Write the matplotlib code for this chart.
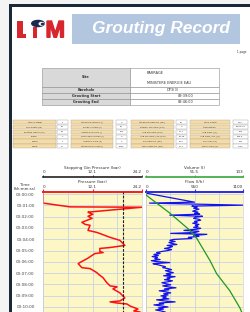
import matplotlib
matplotlib.use("Agg")
import matplotlib.pyplot as plt
from matplotlib.patches import Rectangle, Ellipse, PathPatch
from matplotlib.textpath import TextPath
from matplotlib.font_manager import FontProperties
from matplotlib.transforms import Affine2D
from matplotlib.ticker import FuncFormatter, FixedLocator

W, H = 250, 312

# ---- data ----
site_labels = ["Site", "Borehole", "Grouting Start", "Grouting End"]
site_values = ["BARRAGE\nMINISTERE ENERGIE EAU", "DP3(3)", "09:39:00", "09:46:00"]

param_labels = [
    ["Stress Stage", "Top Depth (m)", "Bottom Depth (m)", "Phase", "Pump", "Grout"],
    ["Stopping Volume (l)", "Break Volume (l)", "Injected Volume (l)", "Recorded Volume (l)", "Injected Time (s)", "Stopping Gl Flow (l)"],
    ["Stopping Pressure (bar)", "Refusal Pressure (bar)", "Avg Pressure (bar)", "Avg Pressure / Pe (bar)", "Pe Pressure (bar)", "Max Pressure (bar)"],
    ["Stop Cause", "Stabilisation", "Avg Flow (l/h)", "Avg Flow / Pe (l/h)", "Pe Flow (l/h)", "Max Flow (l/h)"],
]
param_values = [
    ["1", "40", "45", "1", "1", "17"],
    ["0", "25", "103", "0", "3", "2235"],
    ["20", "0", "14.7", "22.48", "23.0", "24.2"],
    ["Man.", "00:00:00", "780", "436.5", "861", "1100"],
]

# pressure (bar) against elapsed time (s)
p_time = [-11, 48, 50, 68, 70, 96, 102, 107, 118, 129, 150, 161, 166, 193, 204, 230, 246, 273, 284, 289, 305, 311,
          316, 343, 364, 370, 391, 396, 418, 423, 445, 471, 488, 493, 504, 525, 552, 568, 573, 579, 584, 595, 611,
          621, 627, 632]
pressure = [0.0, 0.0, 0.7, 6.6, 24.2, 11.0, 11.5, 12.2, 11.0, 12.0, 9.5, 10.3, 11.5, 11.0, 13.2, 16.4, 18.8, 20.0,
            16.4, 13.9, 13.9, 14.7, 12.7, 10.8, 9.0, 8.6, 9.5, 11.5, 13.2, 13.4, 14.7, 15.6, 16.4, 18.1, 17.1, 18.8,
            20.0, 18.8, 16.4, 18.1, 20.5, 21.3, 23.2, 22.2, 23.7, 24.0]

stop_pressure = 19.6

# flow (l/h) against elapsed time (s)
f_time = [-11, -5, 43, 48, 59,
          64, 70, 75, 80, 86, 91, 96, 102, 107, 112, 118, 123, 129, 134, 139, 145, 150, 155, 161, 166, 171, 177,
          182, 187, 193, 198, 204, 209, 214, 220, 225, 230, 236, 241, 246, 252, 257, 262, 268, 273, 279, 284, 289,
          295, 300, 305, 311, 316, 321, 327, 332, 337, 343, 348, 354, 359, 364, 370, 375, 380, 386, 391, 396, 402,
          407, 412, 418, 423, 429, 434, 439, 445, 450, 455, 461, 466, 471, 477, 482, 488, 493, 498, 504, 509, 514,
          520, 525, 530, 536, 541, 546, 552, 557, 562, 568, 573, 579, 584, 589, 595, 600, 605, 611, 616, 621, 627,
          632]
flow = [0, 0, 550, 40, 1100,
        520, 580, 540, 600, 560, 530, 590, 550, 610, 270, 640, 560, 540, 600, 620, 550, 580, 530, 600, 560, 590,
        540, 620, 570, 430, 600, 560, 280, 690, 540, 600, 480, 520, 310, 270, 330, 260, 290, 350, 240, 300, 270,
        210, 290, 250, 180, 120, 160, 90, 140, 70, 130, 100, 160, 60, 120, 270, 80, 130, 170, 220, 190, 250, 290,
        220, 260, 310, 230, 280, 200, 330, 240, 270, 210, 300, 250, 180, 230, 280, 190, 250, 340, 210, 260, 150,
        230, 280, 200, 250, 170, 230, 190, 260, 120, 210, 330, 150, 200, 90, 180, 250, 140, 200, 110, 170, 220,
        150]

# cumulated volume (l) against elapsed time (s)
v_time = [-11, 5, 102, 193, 236, 354, 423, 514, 605, 632]
volume = [0, 0, 25.5, 46.7, 54, 68, 75, 89, 99.7, 102]

fig = plt.figure(figsize=(W / 100, H / 100), dpi=100, facecolor="#f4f4f4")

# page layer in pixel coordinates (y downwards)
pg = fig.add_axes([0, 0, 1, 1])
pg.set_xlim(0, W)
pg.set_ylim(H, 0)
pg.axis("off")
pg.set_zorder(0)


def rect(x0, y0, x1, y1, fc, ec="none", lw=0.0):
    pg.add_patch(Rectangle((x0, y0), x1 - x0, y1 - y0, facecolor=fc, edgecolor=ec, linewidth=lw))


def txt(x, y, s, size=3, ha="center", va="center", color="#333333", **kw):
    pg.text(x, y, s, fontsize=size, ha=ha, va=va, color=color, **kw)


def glyph(ch, x0, y0, x1, y1, color):
    tp = TextPath((0, 0), ch, size=1, prop=FontProperties(family="Liberation Sans", weight="bold"))
    bb = tp.get_extents()
    tr = Affine2D().translate(-bb.x0, -bb.y0).scale((x1 - x0) / bb.width, -(y1 - y0) / bb.height).translate(x0, y1)
    pg.add_patch(PathPatch(tr.transform_path(tp), facecolor=color, edgecolor=color, linewidth=1.0))


# page frame
rect(9, 4, 252, 314, "#1b2838")
rect(12, 7, 252, 314, "white")

# logo
red = "#d7262e"
rect(17, 20.5, 22.5, 37.8, red)
rect(17, 33.8, 25.8, 37.8, red)
rect(32.5, 26.5, 37, 37.8, red)
pg.add_patch(Ellipse((38, 23.5), 14, 7.5, facecolor="#1c2a52", edgecolor="none"))
pg.add_patch(Ellipse((41.5, 23.8), 6, 4, facecolor="white", edgecolor="none"))
pg.add_patch(Ellipse((42.5, 24), 3.5, 2.6, facecolor="#1c2a52", edgecolor="none"))
glyph("M", 47, 21, 63.5, 37.3, red)

# title banner
rect(72, 14, 240, 44, "#b3c6e0")
txt(160.5, 29, "Grouting Record", size=12.5, color="white", fontweight="bold", style="italic",
    family="Liberation Sans")
txt(242, 52, "1 page", size=2)

# site table
rows = [(68, 87), (87, 93), (93, 99), (99, 105)]
for (y0, y1), lab, val in zip(rows, site_labels, site_values):
    rect(42, y0, 130, y1, "#d9d9d9", "#8c8c8c", 0.4)
    rect(130, y0, 219, y1, "white", "#8c8c8c", 0.4)
    txt(86, (y0 + y1) / 2, lab, size=2.5, fontweight="bold")
    if "\n" in val:
        a, b = val.split("\n")
        txt(147, y0 + 4.5, a, size=2.5, ha="left")
        txt(147, y1 - 4.5, b, size=2.5, ha="left")
    elif ":" in val:
        txt(186, (y0 + y1) / 2, val, size=2.5)
    else:
        txt(173, (y0 + y1) / 2, val, size=2.5)

# parameter table
lab_cols = [(13, 56), (71, 113), (131, 174), (190, 230)]
val_cols = [(57, 68), (116, 127), (176, 187), (233, 248)]
row_h = (149 - 120) / 6
for c in range(4):
    for r in range(6):
        y0 = 120 + r * row_h
        y1 = y0 + row_h - 0.6
        lx0, lx1 = lab_cols[c]
        vx0, vx1 = val_cols[c]
        rect(lx0, y0, lx1, y1, "#f4dcaa", "#b8a888", 0.3)
        rect(vx0, y0, vx1, y1, "white", "#9a9a9a", 0.3)
        txt((lx0 + lx1) / 2, (y0 + y1) / 2, param_labels[c][r], size=1.6)
        txt((vx0 + vx1) / 2, (y0 + y1) / 2, param_values[c][r], size=1.6)

txt(25, 185, "Time", size=2.8)
txt(25, 189, "(hh:mm:ss)", size=2.8)

# ---- charts ----
t_top, t_bot = -11, 632
bg = "#fdf7c6"
grid_c = "#c9d2e3"
sec_fmt = FuncFormatter(lambda v, p: "%02d:%02d:%02d" % (v // 3600, (v % 3600) // 60, v % 60))


def end_labels(axis):
    labs = axis.get_ticklabels()
    labs[0].set_horizontalalignment("left")
    labs[-1].set_horizontalalignment("right")


def panel(x0, x1, top_col, top_max, top_labels, top_title, sec_col, sec_max, sec_labels, sec_title):
    ax = fig.add_axes([x0 / W, 1 - 313 / H, (x1 - x0) / W, (313 - 192) / H])
    ax2 = ax.twiny()
    ax.set_zorder(2)
    ax2.set_zorder(3)

    ax.set_facecolor(bg)
    ax.set_xlim(0, top_max)
    ax.set_ylim(t_bot, t_top)
    ax.yaxis.set_major_locator(FixedLocator(range(0, 660, 60)))
    ax.xaxis.set_major_locator(FixedLocator([0, top_max / 2, top_max]))
    ax.xaxis.set_minor_locator(FixedLocator([top_max / 4, top_max * 3 / 4]))
    ax.grid(True, which="both", color=grid_c, lw=0.6)
    ax.xaxis.tick_top()
    ax.xaxis.set_label_position("top")
    ax.set_xticklabels(top_labels)
    ax.tick_params(axis="x", which="major", colors=top_col, length=2, width=0.8, pad=0.5, labelsize=3,
                   labelcolor="#333333")
    ax.tick_params(axis="x", which="minor", length=0)
    ax.set_xlabel(top_title, fontsize=3, labelpad=1, color="#333333")
    end_labels(ax.xaxis)
    for s in ["left", "right", "bottom"]:
        ax.spines[s].set_color("#c8c8c8")
        ax.spines[s].set_linewidth(0.4)
    ax.spines["top"].set_color(top_col)
    ax.spines["top"].set_linewidth(1.4)

    ax2.set_xlim(0, sec_max)
    ax2.spines["top"].set_position(("outward", 11))
    ax2.spines["top"].set_color(sec_col)
    ax2.spines["top"].set_linestyle((0, (2, 1)))
    ax2.spines["top"].set_linewidth(1.2)
    for s in ["left", "right", "bottom"]:
        ax2.spines[s].set_visible(False)
    ax2.xaxis.set_major_locator(FixedLocator([0, sec_max / 2, sec_max]))
    ax2.set_xticklabels(sec_labels)
    ax2.tick_params(axis="x", colors=sec_col, length=1.5, width=0.6, pad=0.5, labelsize=3, labelcolor="#333333")
    ax2.set_xlabel(sec_title, fontsize=3, labelpad=1, color="#333333")
    end_labels(ax2.xaxis)
    return ax, ax2


axl, axl2 = panel(43, 142, "#ee2020", 24.2, ["0", "12.1", "24.2"], "Pressure (bar)",
                  "#222222", 24.2, ["0", "12.1", "24.2"], "Stopping Gin Pressure (bar)")
axl.yaxis.set_major_formatter(sec_fmt)
axl.tick_params(axis="y", length=0, pad=6, labelsize=3, labelcolor="#444444")
axl2.axvline(stop_pressure, color="#222222", lw=0.8, ls=(0, (2.5, 1.2)))
axl.plot(pressure, p_time, color="#ff1010", lw=1.1)

axr, axr2 = panel(146, 243, "#2a2ae8", 1100, ["0", "550", "1100"], "Flow (l/h)",
                  "#3aa53a", 103, ["0", "51.5", "103"], "Volume (l)")
axr.tick_params(axis="y", length=0, labelleft=False)
axr.plot(flow, f_time, color="#1212ee", lw=0.9)
axr2.plot(volume, v_time, color="#1f9a1f", lw=0.9)

fig.savefig("out.png", dpi=100, facecolor=fig.get_facecolor())
